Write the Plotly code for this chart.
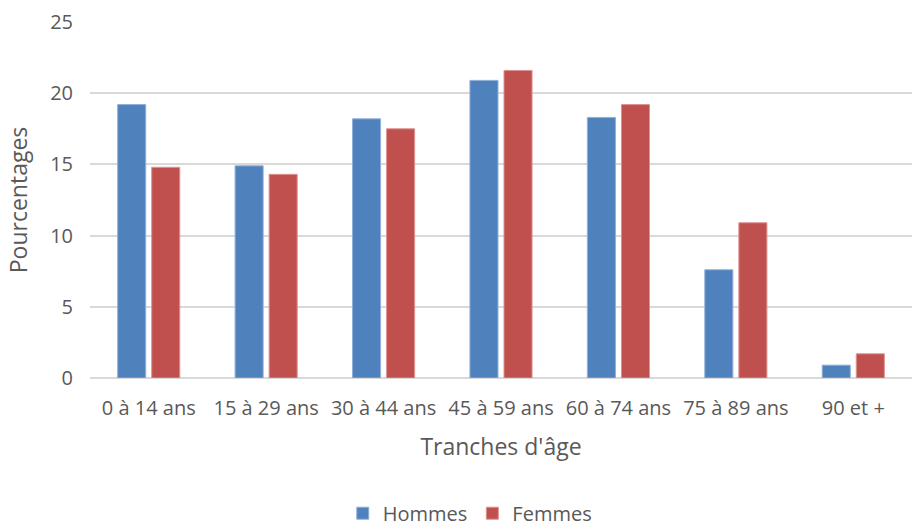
import plotly.graph_objects as go

categories = ["0 à 14 ans", "15 à 29 ans", "30 à 44 ans", "45 à 59 ans",
              "60 à 74 ans", "75 à 89 ans", "90 et +"]
hommes = [19.2, 14.9, 18.2, 20.9, 18.3, 7.6, 0.9]
femmes = [14.8, 14.3, 17.5, 21.6, 19.2, 10.9, 1.7]

text_color = "#595959"
grid_color = "#D9D9D9"
font_family = "Open Sans, Liberation Sans, sans-serif"

fig = go.Figure()
fig.add_trace(go.Bar(
    name="Hommes", x=categories, y=hommes,
    marker=dict(color="#4F81BD", line=dict(color="#8FB0DA", width=1)),
))
fig.add_trace(go.Bar(
    name="Femmes", x=categories, y=femmes,
    marker=dict(color="#C0504D", line=dict(color="#DD9290", width=1)),
))

fig.update_layout(
    width=914, height=526,
    margin=dict(l=90, r=2, t=22, b=148, autoexpand=False),
    paper_bgcolor="white", plot_bgcolor="white",
    font=dict(family=font_family, color=text_color, size=20),
    barmode="group", bargap=0.42, bargroupgap=0.176,
    showlegend=True,
    legend=dict(orientation="h", x=0.462, xanchor="center",
                yref="paper", y=-0.325, yanchor="top",
                font=dict(size=20, color=text_color),
                itemwidth=30, traceorder="normal"),
    xaxis=dict(
        title=dict(text="Tranches d'âge", font=dict(size=23, color=text_color),
                   standoff=18),
        showgrid=False, showline=False, ticks="",
        tickfont=dict(size=20, color=text_color),
        ticklabelstandoff=16,
    ),
    yaxis=dict(
        title=dict(text="Pourcentages", font=dict(size=23, color=text_color),
                   standoff=16),
        range=[0, 25], dtick=5, tick0=0,
        showgrid=True, gridcolor=grid_color, gridwidth=1.5,
        zeroline=True, zerolinecolor=grid_color, zerolinewidth=1.5,
        showline=False, ticks="",
        tickfont=dict(size=20, color=text_color),
        ticklabelstandoff=16,
    ),
)

fig.write_html("out.html")
